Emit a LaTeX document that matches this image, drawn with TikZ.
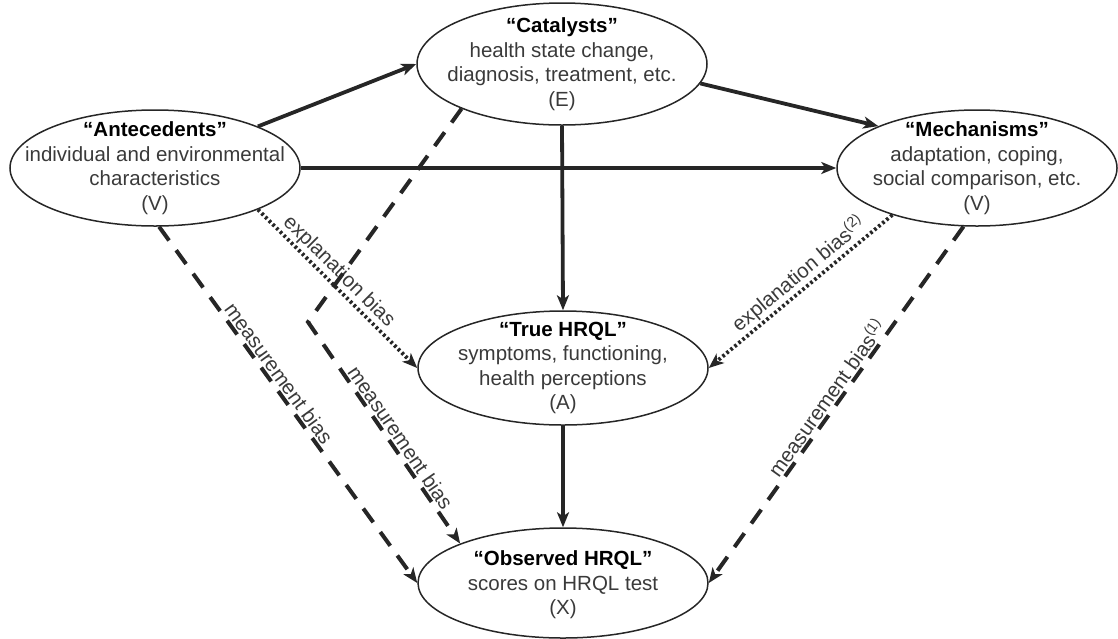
\documentclass[tikz,border=0pt]{standalone}
\usepackage{fontspec}
\setmainfont{Liberation Sans}
\usetikzlibrary{arrows.meta,shapes.geometric}
\definecolor{ink}{HTML}{262626}
\definecolor{txt}{HTML}{3A3A3A}
\begin{document}
\begin{tikzpicture}[x=1pt,y=-1pt,
  bubble/.style={draw=ink, line width=1.5pt, ellipse, minimum width=290pt,
                 minimum height=116pt, inner sep=0pt},
  body/.style={align=center, font=\fontsize{20.5}{24.5}\selectfont, text=txt, inner sep=0pt},
  tip/.style={-{Stealth[length=15pt,width=12pt,inset=4pt]}},
  causal/.style={tip, draw=ink, line width=3.8pt},
  expl/.style={tip, draw=ink, line width=3.8pt, dash pattern=on 2.6pt off 2.6pt},
  meas/.style={tip, draw=ink, line width=4pt, dash pattern=on 17pt off 12pt},
  lbl/.style={sloped, above, font=\fontsize{20.5}{24.5}\selectfont, text=txt, inner sep=1.5pt}
]
\useasboundingbox (0,0) rectangle (1118,638);

% ellipses
\node[bubble] (ant)  at (155,168) {};
\node[bubble, minimum height=122pt] (cat)  at (562,64) {};
\node[bubble, minimum width=280pt] (mech) at (977,168) {};
\node[bubble, minimum height=114pt] (true) at (563,368) {};
\node[bubble, minimum height=110pt] (obs)  at (563,583) {};

% texts
\node[body] (antT) at (ant.center) {{\bfseries\color{black}“Antecedents”}\\individual and environmental\\characteristics\\(V)};
\node[body] (catT) at (cat.center) {{\bfseries\color{black}“Catalysts”}\\health state change,\\diagnosis, treatment, etc.\\(E)};
\node[body] (mechT) at (mech.center) {{\bfseries\color{black}“Mechanisms”}\\adaptation, coping,\\social comparison, etc.\\(V)};
\node[body] (trueT) at (true.center) {{\bfseries\color{black}“True HRQL”}\\symptoms, functioning,\\health perceptions\\(A)};
\node[body] (obsT) at ([yshift=-2pt]obs.center) {{\bfseries\color{black}“Observed HRQL”}\\scores on HRQL test\\(X)};

\coordinate (bend) at (308,322);

% causal paths
\draw[causal] (ant.22) -- (cat.180);
\draw[causal] (ant.east) -- (mech.west);
\draw[causal] (cat.-8) -- (mech.157);
\draw[causal] (cat.south) -- (true.north);
\draw[causal] (true.south) -- (obs.north);

% explanation bias
\draw[expl] (ant.-22) -- node[lbl, pos=0.45] {explanation bias} (true.west);
\draw[expl] (mech.209) -- node[lbl, pos=0.46] {explanation bias\textsuperscript{(2)}} (true.east);

% measurement bias
\draw[meas] (ant.-86) -- node[lbl, pos=0.43] {measurement bias} (obs.west);
\draw[meas] (cat.204) -- (bend) -- node[lbl, pos=0.55] {measurement bias} (obs.159);
\draw[meas] (mech.-103) -- node[lbl, pos=0.5] {measurement bias\textsuperscript{(1)}} (obs.east);
\end{tikzpicture}
\end{document}
